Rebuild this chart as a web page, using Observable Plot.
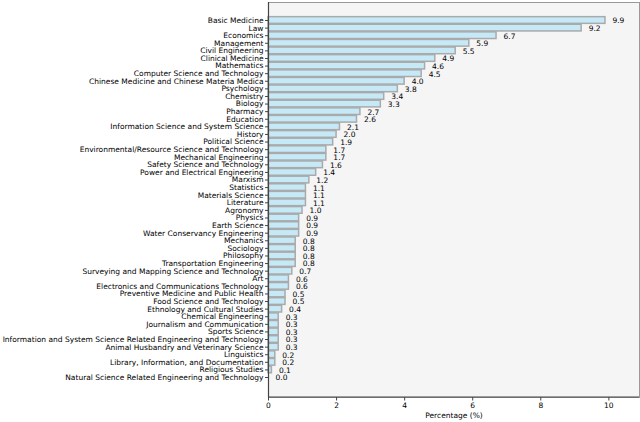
<!DOCTYPE html>
<html>
<head>
<meta charset="utf-8">
<script src="https://cdn.jsdelivr.net/npm/d3@7"></script>
<script src="https://cdn.jsdelivr.net/npm/@observablehq/plot@0.6"></script>
<style>
  html, body { margin: 0; padding: 0; background: #fff; }
  svg { font-family: "DejaVu Sans", sans-serif; }
</style>
</head>
<body>
<div id="chart"></div>
<script>
const disciplines = [
  "Basic Medicine", "Law", "Economics", "Management", "Civil Engineering",
  "Clinical Medicine", "Mathematics", "Computer Science and Technology",
  "Chinese Medicine and Chinese Materia Medica", "Psychology", "Chemistry",
  "Biology", "Pharmacy", "Education", "Information Science and System Science",
  "History", "Political Science", "Environmental/Resource Science and Technology",
  "Mechanical Engineering", "Safety Science and Technology",
  "Power and Electrical Engineering", "Marxism", "Statistics", "Materials Science",
  "Literature", "Agronomy", "Physics", "Earth Science", "Water Conservancy Engineering",
  "Mechanics", "Sociology", "Philosophy", "Transportation Engineering",
  "Surveying and Mapping Science and Technology", "Art",
  "Electronics and Communications Technology", "Preventive Medicine and Public Health",
  "Food Science and Technology", "Ethnology and Cultural Studies",
  "Chemical Engineering", "Journalism and Communication", "Sports Science",
  "Information and System Science Related Engineering and Technology",
  "Animal Husbandry and Veterinary Science", "Linguistics",
  "Library, Information, and Documentation", "Religious Studies",
  "Natural Science Related Engineering and Technology"
];
const percentages = [
  9.9, 9.2, 6.7, 5.9, 5.5, 4.9, 4.6, 4.5, 4.0, 3.8, 3.4, 3.3, 2.7, 2.6, 2.1, 2.0,
  1.9, 1.7, 1.7, 1.6, 1.4, 1.2, 1.1, 1.1, 1.1, 1.0, 0.9, 0.9, 0.9, 0.8, 0.8, 0.8,
  0.8, 0.7, 0.6, 0.6, 0.5, 0.5, 0.4, 0.3, 0.3, 0.3, 0.3, 0.3, 0.2, 0.2, 0.1, 0.0
];
const xTicks = [0, 2, 4, 6, 8, 10];
const xLabel = "Percentage (%)";

const data = disciplines.map((d, i) => ({name: d, value: percentages[i]}));

const chart = Plot.plot({
  width: 640,
  height: 422,
  marginLeft: 268,
  marginRight: 1,
  marginTop: 2,
  marginBottom: 25,
  style: {fontFamily: "DejaVu Sans, sans-serif", fontSize: "7.5px", color: "#000", background: "#fff"},
  x: {domain: [0, 10.9], ticks: xTicks},
  y: {domain: disciplines, range: [16.2, 380.8], paddingInner: 0.12, paddingOuter: 0.06, round: false},
  marks: [
    Plot.frame({fill: "#f5f5f5", stroke: null}),
    Plot.barX(data, {x: "value", y: "name", fill: "#c6e9f7", stroke: "#aaaaaa", strokeWidth: 1.5}),
    Plot.text(data, {x: "value", y: "name", text: d => d.value.toFixed(1), dx: 7, dy: 0.5, textAnchor: "start", fontSize: 7.5, fill: "#000"}),
    Plot.frame({stroke: "#999", strokeWidth: 1}),
    Plot.ruleX([0], {stroke: "#444", strokeWidth: 1.2}),
    Plot.axisY({tickSize: 3, tickPadding: 2, fontSize: 7.5, label: null, stroke: "#444"}),
    Plot.axisX({ticks: xTicks, tickSize: 3.5, tickPadding: 2, fontSize: 7.5, label: null, stroke: "#444"}),
    Plot.text([xLabel], {frameAnchor: "bottom", dy: 20, fontSize: 7.5, fill: "#000"})
  ]
});
const svg = d3.select(chart);
svg.append("line")
  .attr("x1", 268).attr("x2", 639).attr("y1", 397).attr("y2", 397)
  .attr("stroke", "#444").attr("stroke-width", 1.2);
document.getElementById("chart").append(chart);
</script>
</body>
</html>
